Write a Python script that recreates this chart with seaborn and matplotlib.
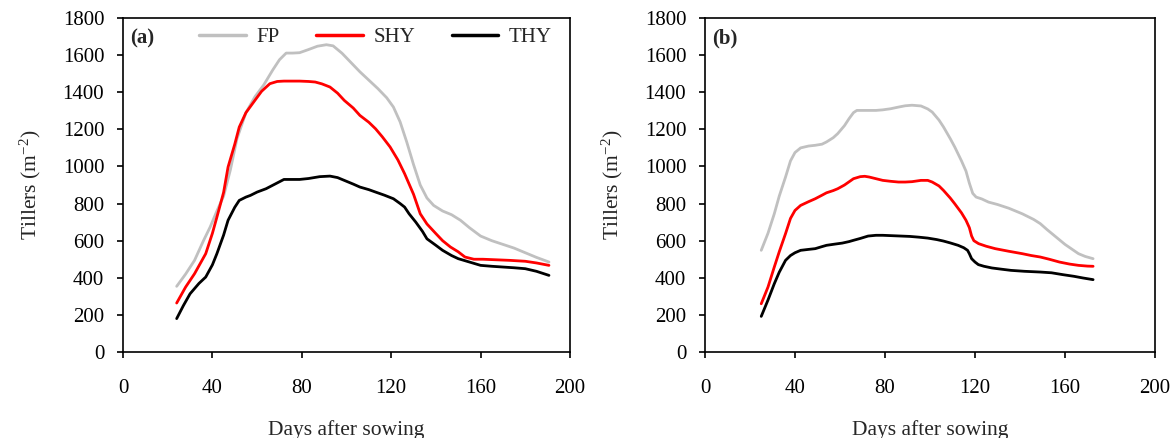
import matplotlib
matplotlib.use("Agg")
import matplotlib.pyplot as plt
import seaborn as sns
import pandas as pd
import numpy as np

# ---- data ----
a_fp_days = [24, 28, 32, 36, 39, 42, 45, 48, 51, 55, 59, 63, 67, 70, 73, 76, 79, 83, 87, 91, 94, 98, 102, 106, 110, 114, 118, 121, 124, 127, 130, 133, 136, 139, 143, 147, 151, 155, 160, 165, 170, 175, 180, 185, 190.6]
a_fp_vals = [354, 420, 494, 600, 674, 760, 840, 980, 1150, 1290, 1375, 1440, 1520, 1575, 1611, 1611, 1613, 1630, 1648, 1656, 1650, 1610, 1560, 1510, 1465, 1420, 1370, 1320, 1240, 1130, 1010, 900, 830, 790, 760, 740, 710, 670, 625, 600, 580, 560, 535, 510, 485]

a_shy_days = [24, 28, 32, 37, 40, 42, 45, 47, 50, 52, 55, 59, 62, 65.7, 69, 72, 76, 79, 83, 86, 89, 92.6, 96, 99, 103, 106, 110, 113, 116, 119.5, 123, 126, 130, 133, 136, 140, 143, 146.5, 150, 153, 157, 161, 167, 173, 180, 185, 190.6]
a_shy_vals = [264, 350, 422, 530, 640, 727, 860, 997, 1120, 1212, 1290, 1356, 1405, 1446, 1458, 1460, 1460, 1460, 1458, 1455, 1445, 1428, 1395, 1356, 1315, 1275, 1238, 1203, 1160, 1105, 1035, 961, 850, 745, 690, 638, 600, 566, 540, 512, 500, 500, 497, 494, 489, 480, 467]

a_thy_days = [24, 27, 30, 34, 37, 40, 42, 45, 47, 50, 52, 55, 57, 60, 64, 68, 72, 76, 79, 83, 88, 92.6, 96, 99, 103, 106, 110, 113, 117, 121, 124, 126, 128, 131, 134, 136, 140, 143, 147, 150, 155, 160, 165, 170, 175, 180, 185, 190.6]
a_thy_vals = [180, 250, 314, 370, 404, 470, 530, 630, 710, 780, 817, 835, 844, 862, 880, 905, 930, 930, 930, 935, 945, 948, 940, 925, 905, 889, 875, 862, 845, 826, 800, 781, 745, 700, 650, 610, 575, 548, 520, 503, 485, 467, 462, 458, 454, 449, 435, 413]

b_fp_days = [25, 28, 30.8, 33, 35.8, 38, 40, 42.5, 46, 49, 52, 54, 57, 59, 62, 64, 66, 67.5, 70, 73, 76, 79, 82.5, 86, 89, 92, 96, 99, 101, 104, 106, 109, 111, 114, 116, 117.5, 119, 120.5, 123, 126, 130, 135, 141, 146, 149, 152, 156, 160, 163, 166, 169, 172.5]
b_fp_vals = [548, 640, 745, 840, 943, 1030, 1075, 1100, 1110, 1114, 1120, 1132, 1155, 1177, 1220, 1257, 1290, 1302, 1302, 1302, 1302, 1305, 1311, 1320, 1327, 1330, 1326, 1310, 1293, 1250, 1213, 1150, 1105, 1030, 975, 910, 855, 835, 825, 808, 795, 775, 745, 715, 692, 660, 620, 580, 555, 530, 515, 503]

b_shy_days = [25, 28, 30.8, 33, 35.8, 38, 40, 42.5, 46, 49, 52, 54, 57, 59, 62, 66, 69, 71, 73, 76, 79, 82.5, 86, 89, 92, 96, 99, 101, 104, 106, 109, 111, 114, 116, 117.5, 118.5, 119.5, 121.6, 125, 129, 135, 141, 145, 149, 153, 157.5, 162, 166, 170, 172.5]
b_shy_vals = [260, 350, 458, 540, 638, 720, 763, 790, 810, 826, 845, 858, 870, 880, 900, 934, 945, 947, 943, 934, 925, 920, 916, 916, 918, 925, 925, 916, 895, 871, 830, 799, 750, 710, 670, 625, 600, 584, 570, 557, 543, 530, 520, 512, 500, 485, 474, 467, 463, 462]

b_thy_days = [25, 28, 30.8, 33, 35.8, 38, 40, 42.5, 46, 49, 52, 54, 58, 61, 64, 66, 69, 72.5, 76, 79, 85, 91, 95, 99, 103, 106, 109, 112.5, 115, 116.7, 117.5, 118.5, 120, 121.5, 124, 127.5, 132, 136, 142, 149, 154, 159, 164, 168, 172.5]
b_thy_vals = [192, 280, 368, 430, 494, 520, 535, 548, 553, 557, 568, 575, 582, 587, 595, 602, 612, 625, 629, 629, 626, 623, 619, 614, 606, 598, 588, 575, 562, 548, 530, 503, 485, 471, 462, 453, 446, 440, 435, 431, 427, 417, 408, 399, 390]

series_names = ["FP", "SHY", "THY"]
series_colors = ["#C0C0C0", "#FF0000", "#000000"]
x_ticks = [0, 40, 80, 120, 160, 200]
y_ticks = [0, 200, 400, 600, 800, 1000, 1200, 1400, 1600, 1800]

def make_df(days_list, vals_list):
    frames = []
    for name, d, v in zip(series_names, days_list, vals_list):
        frames.append(pd.DataFrame({"day": d, "val": v, "series": name}))
    return pd.concat(frames, ignore_index=True)

df_a = make_df([a_fp_days, a_shy_days, a_thy_days], [a_fp_vals, a_shy_vals, a_thy_vals])
df_b = make_df([b_fp_days, b_shy_days, b_thy_days], [b_fp_vals, b_shy_vals, b_thy_vals])

sns.set_theme(style="ticks")
plt.rcParams['font.family'] = ['Liberation Serif', 'DejaVu Serif']
plt.rcParams['mathtext.fontset'] = 'custom'
plt.rcParams['mathtext.rm'] = 'Liberation Serif'
plt.rcParams['mathtext.it'] = 'Liberation Serif:italic'

fig = plt.figure(figsize=(11.74, 4.38), dpi=100)
ax_a = fig.add_axes([0.1048, 0.1963, 0.3807, 0.7626])
ax_b = fig.add_axes([0.6005, 0.1963, 0.3833, 0.7626])

palette = dict(zip(series_names, series_colors))

for ax, df, label in [(ax_a, df_a, "(a)"), (ax_b, df_b, "(b)")]:
    sns.lineplot(data=df, x="day", y="val", hue="series", palette=palette,
                 hue_order=series_names, ax=ax, linewidth=2.0, sort=True,
                 estimator=None, legend=(ax is ax_a))
    ax.set_xlim(0, 200)
    ax.set_ylim(0, 1800)
    ax.set_xticks(x_ticks)
    ax.set_yticks(y_ticks)
    ax.tick_params(axis="both", labelsize=15, direction="out", length=4.5,
                   width=1.2, colors="black")
    ax.tick_params(axis="x", pad=15)
    ax.tick_params(axis="y", pad=9)
    for s in ax.spines.values():
        s.set_visible(True)
        s.set_color("black")
        s.set_linewidth(1.2)
    ax.set_xlabel("Days after sowing", fontsize=15.5, labelpad=16)
    ax.set_ylabel("Tillers (m$^{-2}$)", fontsize=15.5, labelpad=14)
    ax.text(0.015, 0.968, label, transform=ax.transAxes, fontsize=15,
            fontweight="bold", va="top", ha="left")

leg = ax_a.legend(loc="center left", bbox_to_anchor=(0.17, 0.943), ncol=3,
                  frameon=False, fontsize=15, handlelength=2.25,
                  columnspacing=1.75, handletextpad=0.5, borderpad=0,
                  borderaxespad=0)
for line in leg.get_lines():
    line.set_linewidth(2.5)

fig.savefig("out.png", dpi=100)
